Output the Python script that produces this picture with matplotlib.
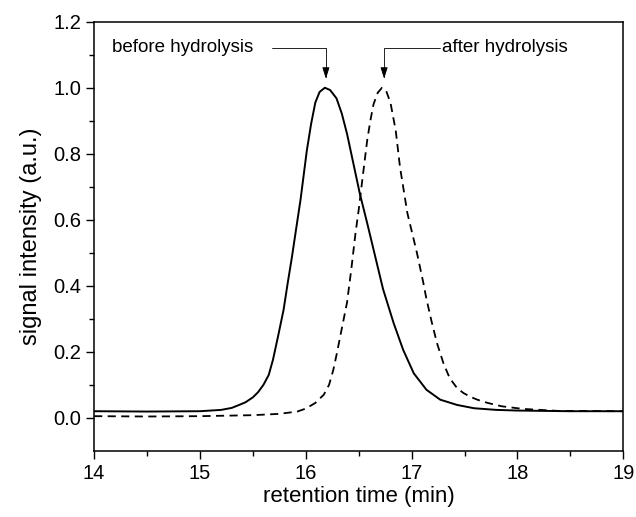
import numpy as np
import matplotlib.pyplot as plt

plt.rcParams['font.family'] = ['Liberation Sans', 'DejaVu Sans']

# before hydrolysis (solid)
t_before = [14.0, 14.5, 15.0, 15.2, 15.3, 15.37, 15.43, 15.5, 15.55, 15.6, 15.65, 15.69, 15.74,
            15.79, 15.83, 15.87, 15.91, 15.95, 15.98, 16.01, 16.05, 16.09, 16.13, 16.18, 16.23,
            16.29, 16.34, 16.39, 16.45, 16.51, 16.58, 16.64, 16.73, 16.83, 16.92, 17.02, 17.14,
            17.27, 17.43, 17.59, 17.8, 18.0, 18.5, 19.0]
v_before = [0.020, 0.019, 0.020, 0.024, 0.030, 0.039, 0.047, 0.062, 0.078, 0.100, 0.130, 0.176, 0.250,
            0.327, 0.410, 0.489, 0.575, 0.660, 0.735, 0.810, 0.890, 0.955, 0.987, 1.000, 0.993,
            0.968, 0.922, 0.860, 0.770, 0.680, 0.590, 0.510, 0.390, 0.287, 0.206, 0.135, 0.085,
            0.055, 0.039, 0.029, 0.024, 0.022, 0.020, 0.020]

# after hydrolysis (dashed)
t_after = [14.0, 14.5, 15.0, 15.5, 15.75, 15.92, 16.0, 16.09, 16.17, 16.22, 16.26, 16.29, 16.34,
           16.39, 16.43, 16.47, 16.50, 16.53, 16.58, 16.61, 16.64, 16.68, 16.72, 16.76, 16.80,
           16.85, 16.89, 16.96, 17.02, 17.05, 17.11, 17.14, 17.19, 17.24, 17.30, 17.36, 17.43,
           17.49, 17.56, 17.62, 17.72, 17.85, 18.05, 18.38, 19.0]
v_after = [0.005, 0.004, 0.005, 0.008, 0.012, 0.019, 0.028, 0.045, 0.070, 0.100, 0.145, 0.190, 0.270,
           0.350, 0.450, 0.560, 0.630, 0.710, 0.840, 0.900, 0.950, 0.985, 1.000, 0.990, 0.955,
           0.870, 0.760, 0.620, 0.540, 0.500, 0.410, 0.360, 0.290, 0.226, 0.166, 0.120, 0.090,
           0.075, 0.063, 0.055, 0.045, 0.035, 0.027, 0.021, 0.020]

fig = plt.figure(figsize=(6.36, 5.17), dpi=100)
ax = fig.add_axes([0.148, 0.128, 0.832, 0.830])

ax.plot(t_before, v_before, color='black', lw=1.4)
ax.plot(t_after, v_after, color='black', lw=1.3, dashes=(4.5, 3))

ax.set_xlim(14, 19)
ax.set_ylim(-0.1, 1.2)
ax.set_xticks(np.arange(14, 19.1, 1))
ax.set_xticks(np.arange(14.5, 19, 1), minor=True)
ax.set_yticks(np.arange(0, 1.21, 0.2))
ax.set_yticks(np.arange(0.1, 1.2, 0.2), minor=True)
ax.yaxis.set_major_formatter(plt.FormatStrFormatter('%.1f'))
ax.tick_params(which='major', direction='out', length=6, width=1, labelsize=14.5)
ax.tick_params(which='minor', direction='out', length=3.5, width=1)
ax.tick_params(top=False, right=False)
for s in ax.spines.values():
    s.set_linewidth(1.1)

ax.set_xlabel('retention time (min)', fontsize=16, labelpad=2)
ax.set_ylabel('signal intensity (a.u.)', fontsize=17, labelpad=8)

arrow = dict(arrowstyle='-|>,head_length=0.7,head_width=0.22', color='black', lw=0.6,
             mutation_scale=10, connectionstyle='angle,angleA=0,angleB=90,rad=0',
             shrinkA=0, shrinkB=0)
ax.annotate('', xy=(16.19, 1.027), xytext=(15.68, 1.121), arrowprops=arrow)
ax.text(14.17, 1.121, 'before hydrolysis', fontsize=13.5, va='center', ha='left')
ax.annotate('', xy=(16.74, 1.027), xytext=(17.27, 1.121), arrowprops=arrow)
ax.text(17.29, 1.121, 'after hydrolysis', fontsize=13.5, va='center', ha='left')

fig.savefig('out.png', dpi=100)
